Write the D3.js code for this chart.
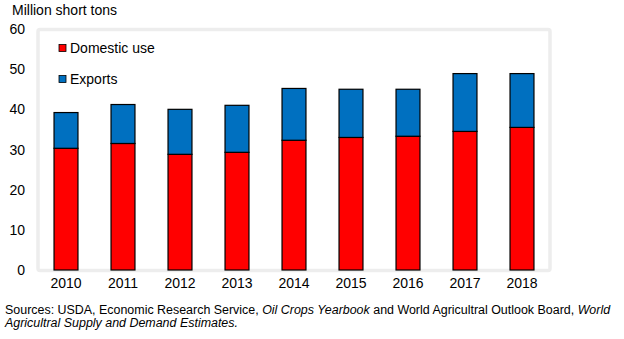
<!DOCTYPE html>
<html>
<head>
<meta charset="utf-8">
<script src="https://cdn.jsdelivr.net/npm/d3@7"></script>
<style>
  body { margin: 0; background: #fff; }
  svg { display: block; font-family: "Liberation Sans", Arial, sans-serif; }
</style>
</head>
<body>
<svg id="chart" width="624" height="339"></svg>
<script>
// data (million short tons)
var years = ["2010", "2011", "2012", "2013", "2014", "2015", "2016", "2017", "2018"]
var domestic = [30.3, 31.5, 28.8, 29.3, 32.3, 33.0, 33.3, 34.5, 35.5]
var exportsUse = [8.9, 9.7, 11.2, 11.7, 12.9, 12.0, 11.7, 14.4, 13.4]
var yTicks = [0, 10, 20, 30, 40, 50, 60]
var seriesNames = ["Domestic use", "Exports"]
var colors = ["#ff0000", "#0070c0"]

const svg = d3.select("#chart")

// plot area frame
svg.append("rect")
  .attr("x", 38).attr("y", 29.5)
  .attr("width", 512).attr("height", 241)
  .attr("rx", 2)
  .attr("fill", "#fff")
  .attr("stroke", "#ededed")
  .attr("stroke-width", 3.5)

const x = d3.scaleBand()
  .domain(years)
  .range([37.5, 550.5])
  .paddingInner(0.58)
  .paddingOuter(0.29)

const y = d3.scaleLinear()
  .domain([0, 60])
  .range([270, 29])

// stack the two series
var rows = years.map((yr, i) => ({ year: yr, d: domestic[i], e: exportsUse[i] }))
var stacked = d3.stack().keys(["d", "e"])(rows)

svg.append("g")
  .selectAll("g")
  .data(stacked)
  .enter().append("g")
  .attr("fill", (s, i) => colors[i])
  .selectAll("rect")
  .data(s => s)
  .enter().append("rect")
  .attr("x", d => x(d.data.year))
  .attr("width", x.bandwidth())
  .attr("y", d => y(d[1]))
  .attr("height", d => y(d[0]) - y(d[1]))
  .attr("stroke", "#000")
  .attr("stroke-width", 1.2)

// y axis labels
svg.append("g")
  .selectAll("text")
  .data(yTicks)
  .enter().append("text")
  .attr("x", 25)
  .attr("y", d => y(d) + 5)
  .attr("text-anchor", "end")
  .attr("font-size", 14)
  .attr("fill", "#000")
  .text(d => d)

// x axis labels
svg.append("g")
  .selectAll("text")
  .data(years)
  .enter().append("text")
  .attr("x", d => x(d) + x.bandwidth() / 2)
  .attr("y", 288)
  .attr("text-anchor", "middle")
  .attr("font-size", 14)
  .attr("fill", "#000")
  .text(d => d)

// unit label
svg.append("text")
  .attr("x", 12).attr("y", 15)
  .attr("font-size", 14)
  .text("Million short tons")

// legend
const legend = svg.append("g")
  .selectAll("g")
  .data(seriesNames)
  .enter().append("g")
  .attr("transform", (d, i) => `translate(59,${48 + i * 31})`)

legend.append("rect")
  .attr("x", 0).attr("y", -3.5)
  .attr("width", 7).attr("height", 7)
  .attr("fill", (d, i) => colors[i])
  .attr("stroke", "#000")
  .attr("stroke-width", 0.8)

legend.append("text")
  .attr("x", 11).attr("y", 5)
  .attr("font-size", 14)
  .text(d => d)

// source note
const note = svg.append("text")
  .attr("x", 5).attr("y", 314)
  .attr("font-size", 12.45)
note.append("tspan").text("Sources: USDA, Economic Research Service, ")
note.append("tspan").attr("font-style", "italic").text("Oil Crops Yearbook")
note.append("tspan").text(" and World Agricultral Outlook Board, ")
note.append("tspan").attr("font-style", "italic").text("World")

svg.append("text")
  .attr("x", 5).attr("y", 327)
  .attr("font-size", 12.45)
  .attr("font-style", "italic")
  .text("Agricultral Supply and Demand Estimates.")
</script>
</body>
</html>
